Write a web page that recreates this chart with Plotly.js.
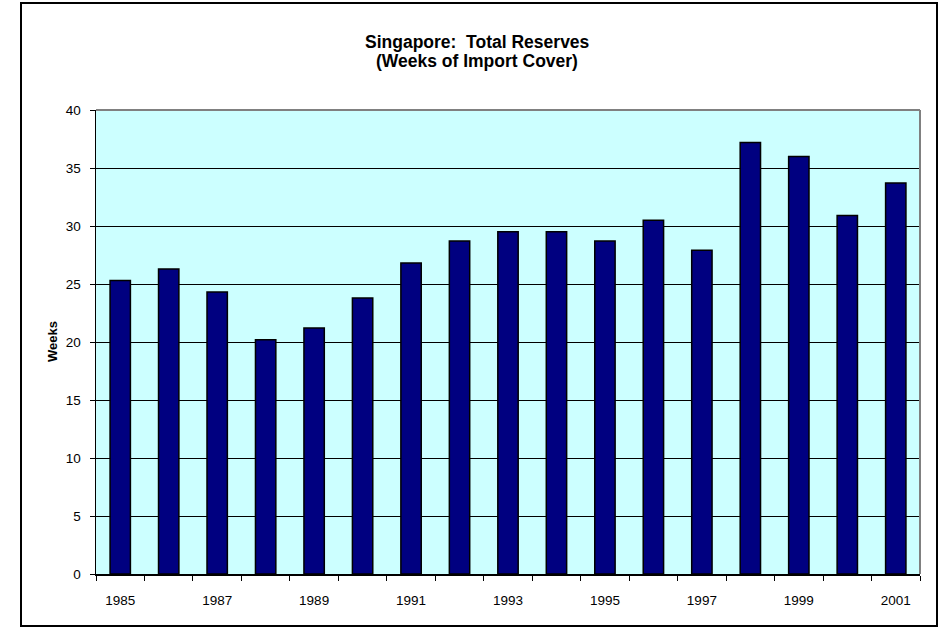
<!DOCTYPE html>
<html>
<head>
<meta charset="utf-8">
<script src="https://cdn.plot.ly/plotly-3.0.1.min.js"></script>
<style>html,body{margin:0;padding:0;background:#fff;}#chart{width:939px;height:628px;}</style>
</head>
<body>
<div id="chart"></div>
<script>
var years = ["1985","1986","1987","1988","1989","1990","1991","1992","1993","1994","1995","1996","1997","1998","1999","2000","2001"];
var weeks = [25.3, 26.3, 24.3, 20.2, 21.2, 23.8, 26.8, 28.7, 29.5, 29.5, 28.7, 30.5, 27.9, 37.2, 36.0, 30.9, 33.7];
var tickLabels = ["1985","","1987","","1989","","1991","","1993","","1995","","1997","","1999","","2001"];
var titleLines = ["Singapore:  Total Reserves", "(Weeks of Import Cover)"];
var yTitle = "Weeks";

var W = 939, H = 628;
var mL = 96, mR = 19, mT = 110, mB = 54;
var pw = W - mL - mR, ph = H - mT - mB;
function px(x){ return (x - mL) / pw; }
function py(y){ return (H - mB - y) / ph; }

var trace = {
  type: "bar",
  x: years,
  y: weeks,
  marker: {color: "#000080", line: {color: "#000000", width: 1.5}},
  hoverinfo: "x+y"
};

var titleFont = {family: "Liberation Sans, Arial, sans-serif", size: 17.5, color: "#000"};

var layout = {
  width: W, height: H,
  margin: {l: mL, r: mR, t: mT, b: mB, pad: 0},
  paper_bgcolor: "#ffffff",
  plot_bgcolor: "#CCFFFF",
  showlegend: false,
  bargap: 0.58,
  font: {family: "Liberation Sans, Arial, sans-serif", color: "#000000", size: 13.5},
  xaxis: {
    type: "category",
    tickmode: "array",
    tickvals: years,
    ticktext: tickLabels,
    tickson: "boundaries",
    ticks: "outside",
    ticklen: 5,
    tickwidth: 1,
    tickcolor: "#000",
    ticklabelstandoff: 13,
    showline: true,
    linecolor: "#000",
    linewidth: 1.5,
    showgrid: false,
    zeroline: false,
    tickfont: {size: 13.5}
  },
  yaxis: {
    range: [0, 40],
    tickmode: "linear",
    tick0: 0,
    dtick: 5,
    ticks: "outside",
    ticklen: 5,
    tickwidth: 1,
    tickcolor: "#000",
    ticklabelstandoff: 6,
    showline: true,
    linecolor: "#000",
    linewidth: 1.5,
    showgrid: true,
    gridcolor: "#000",
    gridwidth: 1,
    zeroline: false,
    tickfont: {size: 13.5}
  },
  annotations: [
    {
      text: "<b>" + titleLines[0] + "</b>",
      xref: "paper", yref: "paper",
      x: px(477), y: py(42),
      xanchor: "center", yanchor: "middle",
      showarrow: false, font: titleFont
    },
    {
      text: "<b>" + titleLines[1] + "</b>",
      xref: "paper", yref: "paper",
      x: px(477), y: py(61),
      xanchor: "center", yanchor: "middle",
      showarrow: false, font: titleFont
    },
    {
      text: "<b>" + yTitle + "</b>",
      textangle: -90,
      xref: "paper", yref: "paper",
      x: px(52), y: py(342),
      xanchor: "center", yanchor: "middle",
      showarrow: false,
      font: {size: 13, color: "#000"}
    }
  ],
  shapes: [
    {type: "line", xref: "paper", yref: "paper", x0: 0, x1: 1, y0: 1, y1: 1, line: {color: "#808080", width: 2}, layer: "above"},
    {type: "line", xref: "paper", yref: "paper", x0: 1, x1: 1, y0: 0, y1: 1, line: {color: "#808080", width: 2}, layer: "above"},
    {type: "rect", xref: "paper", yref: "paper", x0: px(21), x1: px(937), y0: py(3), y1: py(626), line: {color: "#000", width: 2}, fillcolor: "rgba(0,0,0,0)", layer: "above"}
  ]
};

Plotly.newPlot("chart", [trace], layout, {displayModeBar: false, staticPlot: true});
</script>
</body>
</html>
